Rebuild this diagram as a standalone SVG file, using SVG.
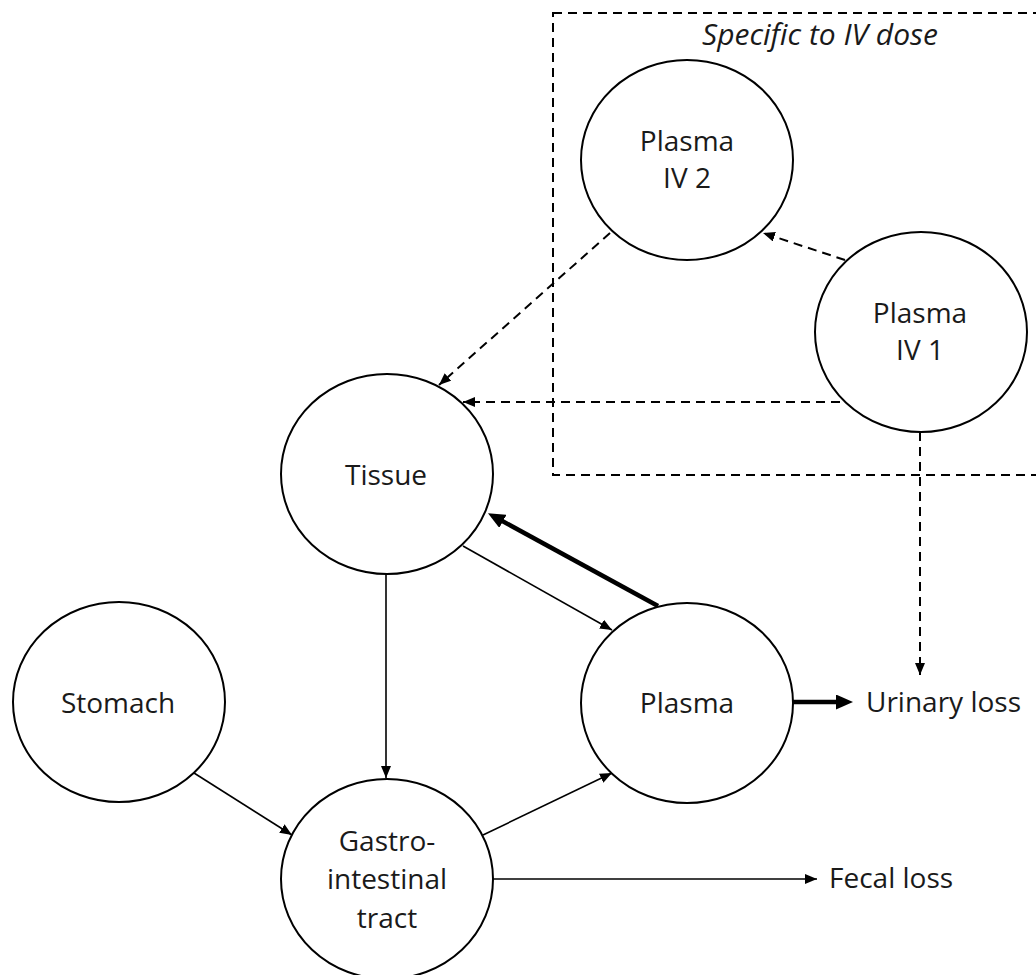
<svg xmlns="http://www.w3.org/2000/svg" width="1036" height="975" viewBox="0 0 1036 975">
<defs>
<style>
.node{fill:#fff;stroke:#000;stroke-width:2}
.lbl{font-family:"Open Sans","Liberation Sans",sans-serif;font-size:28px;fill:#1a1a1a;text-anchor:middle}
.side{font-family:"Open Sans","Liberation Sans",sans-serif;font-size:28px;fill:#1a1a1a}
.ital{font-family:"Open Sans","Liberation Sans",sans-serif;font-size:30px;font-style:italic;fill:#1a1a1a;text-anchor:middle}
.thin{stroke:#000;stroke-width:1.6;fill:none}
.thick{stroke:#000;stroke-width:4.5;fill:none}
.dash{stroke:#000;stroke-width:2;fill:none;stroke-dasharray:9 6}
</style>
<marker id="ah" viewBox="0 0 12 10" markerWidth="12" markerHeight="10" refX="12" refY="5" orient="auto" markerUnits="userSpaceOnUse">
<path d="M0,0 L12,5 L0,10 z" fill="#000"/>
</marker>
<marker id="ahb" viewBox="0 0 17 15" markerWidth="17" markerHeight="15" refX="9" refY="7.5" orient="auto" markerUnits="userSpaceOnUse">
<path d="M0,0 L17,7.5 L0,15 z" fill="#000"/>
</marker>
</defs>
<rect width="1036" height="975" fill="#fff"/>
<g id="iv-box">
<rect x="553" y="13" width="500" height="462" class="dash"/>
<text x="820" y="45" class="ital">Specific to IV dose</text>
</g>
<g id="connectors">
<line x1="845" y1="260" x2="763" y2="233" class="dash" marker-end="url(#ah)"/>
<line x1="610" y1="233" x2="439" y2="385" class="dash" marker-end="url(#ah)"/>
<line x1="840" y1="402" x2="463" y2="402" class="dash" marker-end="url(#ah)"/>
<line x1="920" y1="432" x2="920" y2="675" class="dash" marker-end="url(#ah)"/>
<line x1="658" y1="606" x2="495" y2="517" class="thick" marker-end="url(#ahb)"/>
<line x1="463" y1="546" x2="612" y2="630" class="thin" marker-end="url(#ah)"/>
<line x1="386" y1="574" x2="386" y2="778" class="thin" marker-end="url(#ah)"/>
<line x1="194" y1="773" x2="292" y2="835" class="thin" marker-end="url(#ah)"/>
<line x1="483" y1="835" x2="612" y2="773" class="thin" marker-end="url(#ah)"/>
<line x1="493" y1="879" x2="817" y2="879" class="thin" marker-end="url(#ah)"/>
<line x1="793" y1="702" x2="845" y2="702" class="thick" marker-end="url(#ahb)"/>
</g>
<g id="plasma-iv2">
<ellipse cx="687" cy="160" rx="106" ry="100" class="node"/>
<text x="687" y="151" class="lbl">Plasma</text>
<text x="687" y="188" class="lbl">IV 2</text>
</g>
<g id="plasma-iv1">
<ellipse cx="921" cy="332" rx="106" ry="100" class="node"/>
<text x="920" y="323" class="lbl">Plasma</text>
<text x="920" y="360" class="lbl">IV 1</text>
</g>
<g id="tissue">
<ellipse cx="387" cy="474" rx="106" ry="100" class="node"/>
<text x="386" y="485" class="lbl">Tissue</text>
</g>
<g id="plasma">
<ellipse cx="687" cy="703" rx="106" ry="100" class="node"/>
<text x="687" y="713" class="lbl">Plasma</text>
</g>
<g id="stomach">
<ellipse cx="119" cy="702" rx="106" ry="100" class="node"/>
<text x="118" y="713" class="lbl">Stomach</text>
</g>
<g id="gi-tract">
<ellipse cx="387" cy="879" rx="106" ry="100" class="node"/>
<text x="387" y="851" class="lbl">Gastro-</text>
<text x="387" y="889" class="lbl">intestinal</text>
<text x="387" y="928" class="lbl">tract</text>
</g>
<g id="urinary-loss">
<text x="866" y="712" class="side">Urinary loss</text>
</g>
<g id="fecal-loss">
<text x="829" y="888" class="side">Fecal loss</text>
</g>
</svg>
